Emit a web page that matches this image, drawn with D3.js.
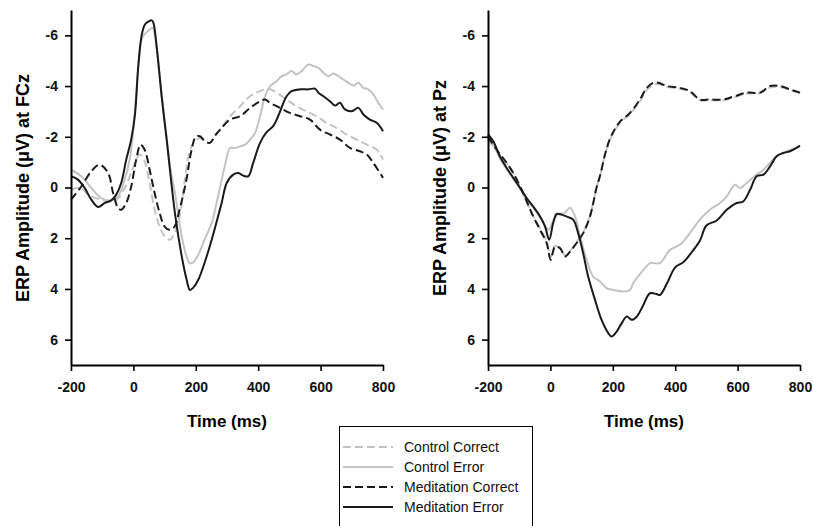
<!DOCTYPE html>
<html>
<head>
<meta charset="utf-8">
<script src="https://cdn.jsdelivr.net/npm/d3@7"></script>
<style>
  body { margin: 0; background: #fff; }
  svg { display: block; font-family: Arial, "Liberation Sans", sans-serif; }
</style>
</head>
<body>
<svg id="chart" width="813" height="526"></svg>
<script>
// series names (legend order)
var seriesNames = ["Control Correct", "Control Error", "Meditation Correct", "Meditation Error"];

var xTicks = [-200, 0, 200, 400, 600, 800];
var yTicks = [-6, -4, -2, 0, 2, 4, 6];

// ---- FCz: [time ms, amplitude uV] ----
var fczCtlCor = [[-200,0.09],[-167,0.02],[-146,0.28],[-103,0.48],[-71,0.55],[-49,0.42],[-28,0.02],[-7,-0.57],[9,-1.1],[20,-1.3],[36,-1.03],[52,-0.18],[68,0.88],[84,1.54],[100,1.93],[116,2.06],[132,1.8],[148,1.14],[165,-0.3],[180,-1.4],[195,-1.8],[213,-1.95],[230,-1.8],[245,-1.76],[262,-2.05],[278,-2.28],[310,-2.81],[342,-3.2],[374,-3.6],[406,-3.8],[432,-3.89],[459,-3.74],[491,-3.47],[523,-3.2],[555,-3.0],[587,-2.81],[619,-2.55],[651,-2.35],[683,-2.09],[715,-1.89],[748,-1.69],[780,-1.49],[800,-1.1]];
var fczCtlErr = [[-200,-0.7],[-167,-0.44],[-135,0.02],[-103,0.42],[-71,0.51],[-49,0.35],[-28,-0.31],[-12,-1.1],[0,-2.3],[15,-4.6],[28,-5.9],[40,-6.1],[55,-6.25],[62,-6.3],[70,-5.9],[80,-4.9],[95,-3.2],[110,-1.6],[120,-0.6],[133,0.2],[155,1.93],[170,2.7],[181,2.98],[192,2.95],[208,2.65],[230,2.0],[251,1.4],[265,0.7],[283,-0.3],[294,-0.9],[310,-1.56],[326,-1.56],[342,-1.62],[358,-1.69],[374,-1.89],[390,-2.15],[406,-2.81],[422,-3.6],[438,-4.0],[459,-4.19],[475,-4.39],[491,-4.46],[507,-4.59],[523,-4.46],[539,-4.59],[561,-4.85],[577,-4.79],[593,-4.72],[609,-4.53],[625,-4.39],[641,-4.5],[657,-4.39],[673,-4.26],[689,-4.13],[705,-4.02],[721,-4.13],[737,-3.93],[753,-3.87],[769,-3.67],[785,-3.34],[800,-3.07]];
var fczMedCor = [[-200,0.48],[-167,-0.04],[-135,-0.64],[-108,-0.9],[-81,-0.57],[-65,0.22],[-49,0.81],[-39,0.88],[-23,0.61],[-7,-0.04],[9,-1.1],[23,-1.69],[36,-1.49],[52,-0.7],[68,0.22],[84,1.0],[100,1.54],[116,1.67],[132,1.54],[148,0.88],[170,-0.31],[185,-1.4],[200,-2.0],[213,-2.02],[228,-1.85],[245,-1.76],[262,-2.05],[278,-2.28],[310,-2.68],[342,-2.81],[374,-3.14],[406,-3.4],[422,-3.47],[438,-3.34],[470,-3.14],[502,-2.94],[534,-2.81],[566,-2.68],[598,-2.28],[630,-2.09],[662,-1.89],[694,-1.56],[726,-1.43],[748,-1.3],[769,-0.97],[800,-0.38]];
var fczMedErr = [[-200,-0.45],[-178,-0.31],[-156,0.02],[-135,0.48],[-113,0.77],[-92,0.61],[-71,0.51],[-55,0.28],[-39,-0.18],[-23,-1.1],[-7,-1.9],[5,-2.88],[16,-4.85],[27,-6.04],[37,-6.43],[48,-6.54],[59,-6.59],[64,-6.5],[75,-5.51],[91,-3.54],[107,-1.85],[133,1.0],[155,2.72],[170,3.6],[181,4.04],[192,3.95],[208,3.64],[230,2.9],[251,2.06],[270,1.2],[283,0.6],[299,-0.18],[320,-0.51],[336,-0.57],[352,-0.47],[368,-0.44],[384,-0.97],[406,-1.76],[427,-2.18],[448,-2.42],[464,-2.81],[491,-3.6],[507,-3.8],[534,-3.87],[561,-3.87],[582,-3.9],[593,-3.74],[609,-3.6],[630,-3.4],[646,-3.23],[662,-3.34],[678,-3.08],[700,-3.01],[721,-3.14],[737,-2.88],[758,-2.68],[780,-2.55],[800,-2.22]];

// ---- Pz: [time ms, amplitude uV] ----
var pzCtlCor = [[-200,-1.89],[-172,-1.45],[-140,-0.95],[-119,-0.55],[-97,-0.02],[-76,0.55],[-55,1.12],[-33,1.62],[-12,2.12],[1,2.75],[15,2.3],[31,2.42],[47,2.68],[63,2.5],[84,2.15],[105,1.78],[127,1.1],[148,0.0],[160,-0.5],[175,-1.3],[190,-1.85],[202,-2.15],[223,-2.55],[255,-2.9],[287,-3.4],[309,-3.85],[330,-4.05],[346,-4.08],[373,-3.97],[415,-3.9],[447,-3.76],[479,-3.44],[511,-3.44],[554,-3.44],[586,-3.54],[629,-3.7],[672,-3.72],[704,-3.94],[736,-3.96],[768,-3.84],[800,-3.72]];
var pzCtlErr = [[-200,-1.93],[-183,-1.7],[-162,-1.15],[-140,-0.72],[-119,-0.35],[-97,0.05],[-76,0.45],[-55,0.8],[-33,1.2],[-17,1.5],[-6,1.67],[9,1.3],[25,1.05],[45,1.0],[63,0.8],[79,1.14],[95,1.93],[116,2.85],[137,3.51],[159,3.71],[180,3.97],[202,4.04],[234,4.1],[255,4.04],[266,3.77],[298,3.25],[319,2.98],[351,2.98],[383,2.46],[415,2.26],[447,1.8],[479,1.27],[511,0.88],[544,0.61],[565,0.35],[592,-0.11],[608,0.02],[629,-0.18],[661,-0.51],[683,-0.7],[704,-0.97],[725,-1.23],[757,-1.43],[800,-1.62]];
var pzMedCor = [[-200,-2.0],[-172,-1.49],[-140,-0.97],[-119,-0.57],[-97,-0.04],[-76,0.55],[-55,1.14],[-33,1.67],[-12,2.19],[1,2.85],[15,2.33],[31,2.39],[47,2.72],[63,2.53],[84,2.19],[105,1.8],[127,1.14],[148,0.0],[160,-0.5],[175,-1.3],[190,-1.9],[202,-2.2],[223,-2.6],[255,-2.94],[287,-3.47],[309,-3.93],[330,-4.13],[346,-4.13],[373,-4.0],[415,-3.93],[447,-3.8],[479,-3.47],[511,-3.47],[554,-3.47],[586,-3.58],[629,-3.74],[672,-3.74],[704,-4.0],[736,-4.0],[768,-3.87],[800,-3.74]];
var pzMedErr = [[-200,-2.09],[-183,-1.82],[-162,-1.23],[-140,-0.77],[-119,-0.38],[-97,0.02],[-76,0.42],[-55,0.75],[-33,1.14],[-17,1.54],[-4,2.06],[9,1.4],[20,1.04],[36,1.07],[57,1.17],[73,1.27],[89,1.8],[105,2.59],[121,3.51],[143,4.43],[164,5.22],[186,5.75],[196,5.88],[212,5.69],[228,5.36],[245,5.09],[261,5.22],[277,5.09],[298,4.63],[319,4.17],[340,4.2],[351,4.24],[373,3.8],[400,3.15],[426,2.95],[450,2.6],[479,2.1],[500,1.5],[533,1.3],[565,0.88],[597,0.61],[618,0.55],[640,0.09],[661,-0.44],[683,-0.51],[704,-0.83],[725,-1.23],[746,-1.36],[768,-1.43],[789,-1.56],[800,-1.65]];

var styles = [
  { color: "#c3c3c3", dash: "8,4" },
  { color: "#c3c3c3", dash: null },
  { color: "#1a1a1a", dash: "8,4" },
  { color: "#1a1a1a", dash: null }
];

var svg = d3.select("#chart");

function drawPanel(left, right, label, data) {
  var x = d3.scaleLinear().domain([-200, 800]).range([left, right]);
  var y = d3.scaleLinear().domain([-7, 7]).range([10, 365]);

  var g = svg.append("g");

  var line = d3.line()
    .x(function(d) { return x(d[0]); })
    .y(function(d) { return y(d[1]); })
    .curve(d3.curveCatmullRom.alpha(0.5));

  data.forEach(function(s, i) {
    g.append("path")
      .datum(s)
      .attr("d", line)
      .attr("fill", "none")
      .attr("stroke", styles[i].color)
      .attr("stroke-width", 2)
      .attr("stroke-dasharray", styles[i].dash);
  });

  // axes
  var yAxis = g.append("g")
    .attr("transform", "translate(" + left + ",0)")
    .call(d3.axisLeft(y).tickValues(yTicks).tickSize(6).tickPadding(7).tickSizeOuter(0));
  var xAxis = g.append("g")
    .attr("transform", "translate(0,365)")
    .call(d3.axisBottom(x).tickValues(xTicks).tickSize(6).tickPadding(11).tickSizeOuter(0));

  [yAxis, xAxis].forEach(function(a) {
    a.select(".domain").attr("stroke", "#000").attr("stroke-width", 2);
    a.selectAll(".tick line").attr("stroke", "#000").attr("stroke-width", 1.6);
    a.selectAll("text")
      .attr("fill", "#111")
      .style("font-size", "14px")
      .style("font-weight", "bold")
      .text(function(d) { return d; });
  });

  // axis titles
  g.append("text")
    .attr("x", (left + right) / 2)
    .attr("y", 427)
    .attr("text-anchor", "middle")
    .style("font-size", "17px")
    .style("font-weight", "bold")
    .text("Time (ms)");

  g.append("text")
    .attr("transform", "translate(" + (left - 42) + ",188) rotate(-90)")
    .attr("text-anchor", "middle")
    .style("font-size", "18px")
    .style("font-weight", "bold")
    .text(label);
}

drawPanel(71, 383, "ERP Amplitude (\u03BCV) at FCz", [fczCtlCor, fczCtlErr, fczMedCor, fczMedErr]);
drawPanel(488, 800, "ERP Amplitude (\u03BCV) at Pz", [pzCtlCor, pzCtlErr, pzMedCor, pzMedErr]);

// ---- legend ----
var legend = svg.append("g");
legend.append("rect")
  .attr("x", 339.5).attr("y", 426.5)
  .attr("width", 193).attr("height", 110)
  .attr("fill", "#fff").attr("stroke", "#000").attr("stroke-width", 1);

var rowY = d3.scalePoint().domain(seriesNames).range([447, 507]);

seriesNames.forEach(function(name, i) {
  legend.append("line")
    .attr("x1", 343).attr("x2", 393)
    .attr("y1", rowY(name)).attr("y2", rowY(name))
    .attr("stroke", styles[i].color)
    .attr("stroke-width", 2)
    .attr("stroke-dasharray", styles[i].dash);
  legend.append("text")
    .attr("x", 404).attr("y", rowY(name) + 5)
    .style("font-size", "14px")
    .attr("fill", "#111")
    .text(name);
});
</script>
</body>
</html>
